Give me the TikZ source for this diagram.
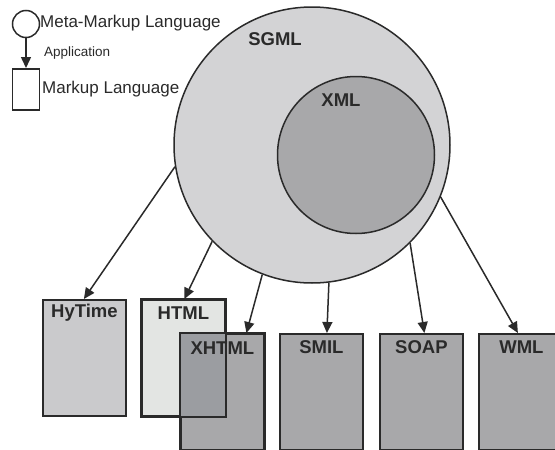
\documentclass[tikz,border=0pt]{standalone}
\usepackage{fontspec}
\setmainfont{Liberation Sans}
\usetikzlibrary{arrows.meta}
\definecolor{linec}{HTML}{2A2A2A}
\definecolor{sgmlc}{HTML}{D3D3D5}
\definecolor{xmlc}{HTML}{A8A8AA}
\definecolor{hytimec}{HTML}{CACACC}
\definecolor{htmlc}{HTML}{E3E5E3}
\definecolor{darkboxc}{HTML}{A8A8AA}
\definecolor{overlapc}{HTML}{9B9DA1}
\begin{document}
\begin{tikzpicture}[x=1pt,y=-1pt,
  ring/.style={circle,draw=linec,line width=1.5pt,inner sep=0pt},
  langbox/.style={rectangle,draw=linec,line width=1.8pt,inner sep=0pt,minimum width=83pt,minimum height=116pt},
  boxlabel/.style={font=\fontsize{18.5}{20}\selectfont\bfseries,text=linec,inner sep=0pt},
  legendtext/.style={font=\fontsize{17}{19}\selectfont,text=linec,inner sep=0pt,anchor=west},
  conn/.style={draw=linec,line width=1.5pt,-{Triangle[length=11pt,width=10pt]}}]
\useasboundingbox (0,0) rectangle (555,450);
\clip (0,0) rectangle (555,450);
% legend
\node[ring,minimum size=27pt] (meta) at (26,24) {};
\node[rectangle,draw=linec,line width=1.5pt,minimum width=27pt,minimum height=41pt,inner sep=0pt,anchor=north] (markup) at (26,68) {};
\draw[conn] (meta.south) -- (markup.north);
\node[legendtext] (metatext) at (40,23.5) {Meta-Markup Language};
\node[legendtext,font=\fontsize{13.5}{15}\selectfont] (apptext) at (44,53) {Application};
\node[legendtext] (markuptext) at (42,89) {Markup Language};
% circles
\node[ring,fill=sgmlc,minimum size=276pt] (sgml) at (312,145) {};
\node[ring,fill=xmlc,minimum size=157pt] (xml) at (356,155) {};
\node[boxlabel] (sgmltext) at (275,39) {SGML};
\node[boxlabel] (xmltext) at (341,100) {XML};
% boxes
\node[langbox,fill=hytimec,anchor=north west] (hytime) at (42,299) {};
\node[langbox,fill=htmlc,anchor=north west] (html) at (141,299) {};
\node[langbox,fill=darkboxc,anchor=north west] (xhtml) at (180,333) {};
\node[langbox,fill=darkboxc,anchor=north west] (smil) at (279,333) {};
\node[langbox,fill=darkboxc,anchor=north west] (soap) at (379,333) {};
\node[langbox,fill=darkboxc,anchor=north west] (wml) at (478,333) {};
% overlap of HTML and XHTML
\fill[overlapc] (xhtml.north west) rectangle (html.south east);
\draw[draw=linec,line width=1.8pt] (html.north west) rectangle (html.south east);
\draw[draw=linec,line width=1.8pt] (xhtml.north west) rectangle (xhtml.south east);
% connectors
\draw[conn] (sgml.189) -- ([xshift=-0.5pt]hytime.north);
\draw[conn] (sgml.224) -- ([xshift=1pt]html.north);
\draw[conn] (sgml.249) -- ([xshift=24pt]xhtml.north);
\draw[conn] (sgml.277) -- ([xshift=5.5pt]smil.north);
\draw[conn] (sgml.315) -- ([xshift=3pt]soap.north);
\draw[conn] (sgml.338) -- ([xshift=-2.5pt]wml.north);
% labels
\node[boxlabel] (hytimetext) at ([yshift=-14pt]hytime.north) {HyTime};
\node[boxlabel] (htmltext) at ([yshift=-14pt]html.north) {HTML};
\node[boxlabel] (xhtmltext) at ([yshift=-15pt]xhtml.north) {XHTML};
\node[boxlabel] (smiltext) at ([yshift=-14pt]smil.north) {SMIL};
\node[boxlabel] (soaptext) at ([yshift=-14pt]soap.north) {SOAP};
\node[boxlabel] (wmltext) at ([xshift=1pt,yshift=-14pt]wml.north) {WML};
\end{tikzpicture}
\end{document}
